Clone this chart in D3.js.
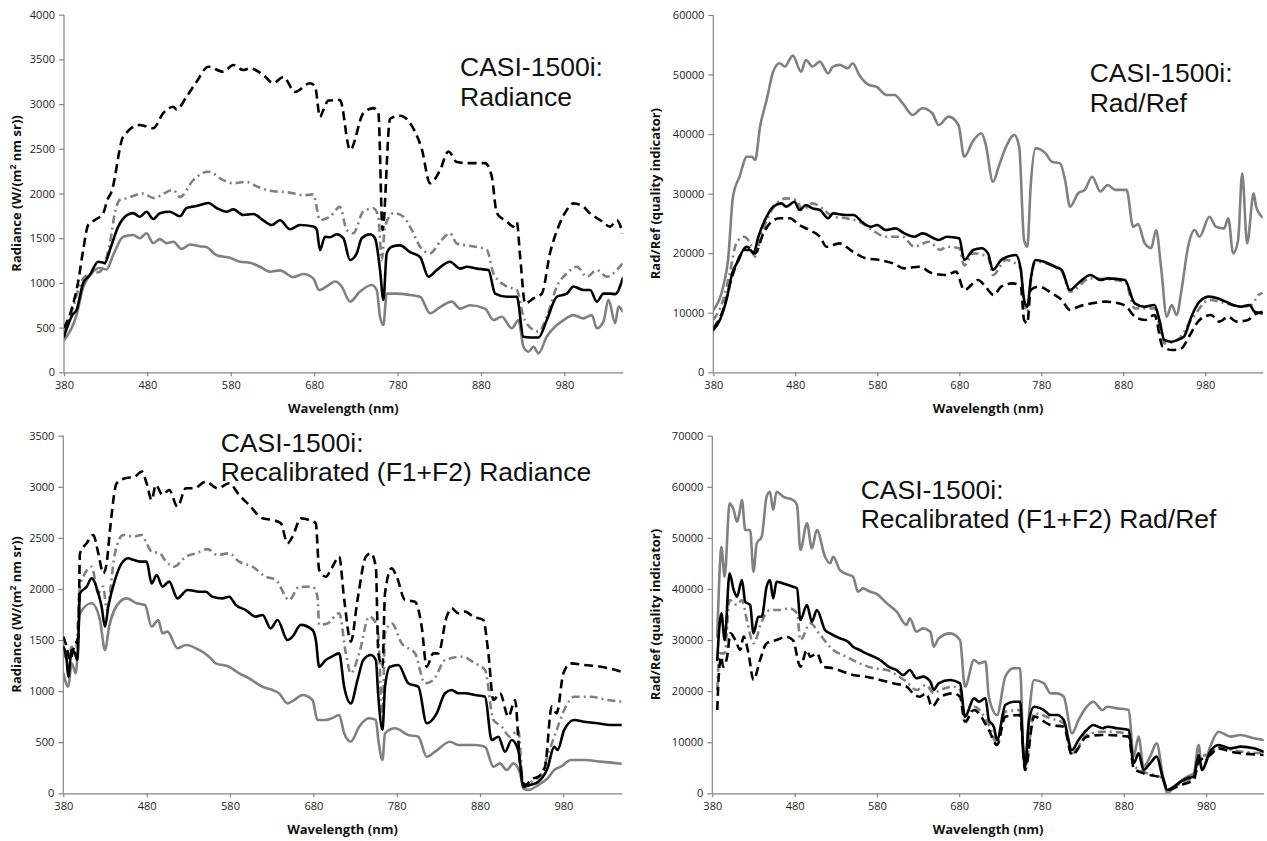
<!DOCTYPE html>
<html><head><meta charset="utf-8">
<script src="https://cdn.jsdelivr.net/npm/d3@7"></script>
<style>
html,body{margin:0;padding:0;background:#fff;}
svg{display:block;}
</style></head>
<body>
<svg id="chart" width="1267" height="841"></svg>
<script>
// ---------- DATA (wavelength nm, value) ----------
const xTicks = [380,480,580,680,780,880,980];

// Top-left: CASI-1500i Radiance
const tlBlack = [[380,398],[390,640],[395,697],[403,1000],[411,1089],[421,1237],[429,1223],[435,1368],[445,1629],[456,1760],[463,1780],[471,1740],[479,1796],[487,1714],[495,1780],[507,1796],[519,1745],[527,1838],[539,1860],[553,1893],[563,1838],[575,1796],[583,1822],[595,1760],[607,1770],[619,1700],[629,1647],[639,1700],[651,1600],[663,1647],[679,1630],[683,1600],[687,1368],[693,1517],[699,1510],[707,1545],[715,1500],[723,1256],[731,1330],[737,1500],[747,1545],[753,1500],[759,1144],[763,810],[767,1330],[773,1405],[783,1420],[795,1344],[807,1290],[817,1069],[827,1144],[843,1236],[855,1160],[863,1180],[875,1160],[889,1144],[897,880],[911,845],[923,845],[931,397],[939,390],[949,390],[959,585],[971,845],[983,880],[991,960],[1003,920],[1011,920],[1019,790],[1027,880],[1035,880],[1041,875],[1050,1050]];
const tlGray = [[380,360],[395,640],[403,950],[413,1107],[423,1167],[431,1150],[439,1312],[451,1517],[463,1535],[471,1500],[479,1555],[487,1445],[495,1490],[503,1445],[511,1460],[521,1380],[531,1430],[543,1410],[551,1400],[563,1310],[579,1280],[591,1237],[603,1225],[615,1180],[627,1125],[639,1140],[655,1065],[667,1100],[679,1050],[686,920],[695,960],[705,1015],[713,960],[723,790],[735,903],[749,977],[755,920],[759,622],[763,530],[767,880],[779,880],[795,865],[807,845],[819,660],[831,730],[845,790],[855,712],[867,750],[885,712],[895,585],[905,622],[917,492],[925,585],[931,286],[937,230],[943,286],[949,212],[959,400],[971,530],[977,570],[991,640],[1003,603],[1013,640],[1019,492],[1027,570],[1033,810],[1041,550],[1045,735],[1050,680]];
const tlDashed = [[380,495],[390,733],[397,1013],[403,1368],[409,1648],[417,1703],[427,1778],[432,1928],[437,2020],[451,2635],[471,2766],[487,2730],[499,2900],[511,2970],[515,2940],[527,3083],[539,3250],[553,3418],[571,3362],[583,3437],[595,3381],[603,3400],[619,3325],[631,3234],[643,3304],[657,3137],[675,3234],[681,3200],[687,2856],[691,2934],[697,3040],[711,3046],[723,2487],[739,2898],[751,2955],[757,2900],[762,1592],[771,2836],[783,2870],[801,2690],[809,2500],[819,2114],[831,2262],[841,2470],[851,2352],[863,2340],[885,2340],[893,2189],[899,1780],[911,1687],[919,1630],[923,1680],[927,1296],[933,770],[943,826],[953,880],[963,1340],[973,1630],[983,1816],[991,1890],[1003,1850],[1011,1775],[1023,1703],[1035,1630],[1043,1700],[1050,1554]];
const tlDashDot = [[380,450],[390,700],[400,1000],[410,1100],[423,1125],[435,1445],[441,1780],[447,1930],[456,1950],[475,2000],[487,1950],[511,2040],[519,1960],[535,2150],[553,2244],[571,2150],[583,2115],[599,2130],[611,2080],[627,2030],[651,2010],[667,1980],[679,1990],[687,1703],[699,1740],[711,1852],[719,1592],[727,1555],[739,1800],[751,1835],[757,1740],[761,1256],[765,1630],[775,1780],[787,1740],[797,1592],[807,1405],[819,1330],[831,1460],[843,1555],[851,1440],[863,1420],[887,1370],[895,1107],[911,960],[923,920],[931,622],[943,473],[949,455],[959,622],[971,960],[983,1107],[995,1180],[1007,1070],[1019,1144],[1031,1070],[1043,1144],[1050,1220]];

// Top-right: CASI-1500i Rad/Ref
const trGray = [[380,10460],[392,14370],[398,18860],[404,29490],[412,32850],[421,36200],[427,36200],[431,35640],[437,41240],[445,45730],[453,50480],[461,51900],[467,51340],[477,53180],[487,50480],[493,52450],[501,51340],[510,52170],[520,50200],[526,51340],[534,51620],[544,51060],[550,51900],[558,49920],[570,48240],[579,47960],[591,46570],[601,46570],[611,45170],[623,43210],[635,44330],[647,43500],[655,41530],[667,42930],[679,41530],[686,36200],[697,38900],[707,40150],[712,38400],[721,32000],[728,34520],[737,37880],[747,39850],[753,37880],[759,22220],[763,21090],[767,31170],[773,37600],[785,36800],[793,35370],[803,35090],[809,32290],[815,27810],[825,30070],[833,30630],[842,32850],[852,30350],[861,31460],[870,30630],[884,30630],[892,24450],[898,24880],[906,21700],[914,20850],[920,23890],[926,17730],[933,9340],[939,11300],[945,9620],[951,13820],[959,21090],[967,23890],[973,22770],[985,26130],[993,24450],[1003,24170],[1008,25860],[1014,19970],[1020,22220],[1025,33410],[1031,21650],[1039,30070],[1042,27810],[1050,26000]];
const trBlack = [[380,7100],[388,8790],[396,12140],[403,16630],[411,18860],[417,20540],[425,20540],[429,19970],[435,22770],[445,26130],[453,27810],[463,28370],[469,27810],[479,28650],[485,27250],[493,28090],[501,27530],[510,27250],[520,25860],[526,26690],[542,26410],[551,26410],[561,25290],[572,24450],[580,24730],[590,23890],[602,24170],[613,23330],[625,22770],[635,23330],[655,22220],[665,22770],[680,22500],[686,18860],[697,20540],[707,20820],[715,19970],[721,17180],[731,18860],[739,19420],[749,19690],[755,17180],[759,12140],[763,11020],[767,15500],[773,18860],[783,18580],[797,17730],[805,17180],[815,13820],[825,14940],[840,16340],[852,15500],[861,15780],[882,15500],[894,11580],[906,11020],[918,11300],[924,8790],[930,5420],[939,5140],[946,5420],[954,5980],[963,9340],[973,11860],[985,12700],[995,12420],[1005,11860],[1014,11300],[1024,11020],[1034,11300],[1040,10180],[1050,9900]];
const trDashDot = [[380,8790],[392,12140],[400,16630],[408,21650],[417,22770],[425,21650],[431,19420],[437,22220],[447,26130],[457,28370],[469,29210],[481,28930],[489,27250],[501,28370],[513,27530],[526,26130],[542,25860],[558,25290],[574,23890],[590,22770],[611,22770],[625,21090],[643,21930],[657,20540],[664,21090],[680,20820],[686,17950],[697,19970],[715,19420],[721,16340],[737,18860],[755,17500],[759,11580],[763,10180],[767,15000],[773,18580],[805,16900],[815,13540],[840,15780],[882,15220],[894,10740],[918,10740],[930,4860],[946,5420],[963,8790],[985,12140],[1005,11580],[1024,11020],[1036,11300],[1045,13000],[1050,13300]];
const trDashed = [[380,7380],[392,10460],[403,16070],[412,19420],[421,21090],[431,19970],[441,23330],[451,25290],[461,25860],[473,25860],[485,24730],[497,23890],[510,22770],[518,21090],[534,21650],[550,20260],[566,19140],[583,18860],[599,18300],[613,17460],[631,17730],[647,16630],[664,16340],[676,16900],[686,13820],[703,15500],[712,14380],[722,12980],[731,14380],[745,14940],[755,14380],[759,8790],[763,8230],[767,13820],[777,14380],[793,13260],[805,12140],[815,10460],[825,11020],[842,11580],[858,11860],[874,11580],[884,11020],[892,9620],[906,8790],[918,9620],[928,4300],[940,3740],[951,4020],[960,5980],[973,8790],[987,9620],[997,8510],[1008,9340],[1018,8510],[1032,8790],[1039,9620],[1050,10180]];

// Bottom-left: Recalibrated (F1+F2) Radiance
const blBlack = [[380,1435],[384,1305],[386,1141],[390,1403],[394,1370],[397,1305],[400,1957],[408,2022],[414,2105],[422,1957],[426,1827],[430,1631],[434,1827],[442,2088],[450,2250],[458,2300],[464,2285],[472,2268],[480,2268],[486,2055],[492,2137],[499,2022],[507,2072],[517,1908],[529,1990],[543,1973],[551,1973],[559,1924],[571,1908],[579,1924],[587,1843],[599,1794],[611,1729],[619,1745],[629,1615],[637,1696],[649,1500],[655,1533],[665,1648],[679,1598],[683,1500],[687,1239],[695,1305],[702,1337],[711,1370],[717,1043],[725,880],[733,1109],[740,1305],[749,1354],[755,1305],[758,945],[763,620],[766,1043],[772,1239],[782,1256],[794,1077],[806,1043],[816,685],[828,783],[838,979],[846,1011],[854,979],[862,979],[874,962],[886,945],[894,522],[902,554],[910,407],[918,522],[926,417],[932,65],[940,81],[950,114],[961,245],[969,456],[973,424],[981,620],[993,718],[1005,701],[1021,685],[1037,669],[1050,669]];
const blGray = [[380,1174],[386,1043],[390,1272],[395,1174],[400,1762],[414,1860],[424,1696],[430,1403],[435,1631],[448,1875],[456,1908],[468,1860],[478,1843],[486,1631],[494,1696],[499,1566],[505,1582],[517,1419],[527,1452],[543,1403],[555,1337],[563,1272],[579,1239],[591,1174],[603,1125],[619,1043],[631,1011],[639,977],[649,880],[657,913],[667,962],[679,913],[685,718],[695,718],[702,734],[711,767],[717,587],[725,505],[735,652],[747,734],[755,718],[758,522],[763,326],[766,587],[778,636],[794,571],[806,554],[816,358],[826,407],[844,505],[854,473],[874,473],[886,456],[896,261],[904,293],[912,228],[920,293],[928,196],[932,49],[938,33],[950,81],[961,146],[969,228],[977,261],[989,326],[1005,326],[1025,310],[1050,290]];
const blDashed = [[380,1533],[384,1435],[388,1305],[393,1435],[398,1533],[400,2349],[408,2447],[416,2528],[422,2349],[428,2153],[432,2250],[436,2577],[444,3034],[454,3083],[466,3100],[474,3148],[480,3034],[486,2871],[491,3018],[499,2920],[507,2969],[517,2805],[527,2985],[537,2985],[551,3050],[565,2985],[579,3034],[591,2920],[603,2822],[619,2691],[631,2675],[641,2642],[649,2447],[655,2512],[665,2691],[675,2675],[683,2642],[687,2186],[695,2120],[702,2202],[711,2316],[717,1900],[725,1484],[733,1892],[743,2316],[749,2349],[755,2218],[758,1370],[763,1239],[766,1957],[774,2202],[780,2120],[790,1892],[802,1875],[810,1631],[816,1239],[824,1370],[830,1370],[840,1729],[846,1810],[854,1762],[862,1778],[872,1729],[884,1696],[890,1370],[896,913],[904,979],[914,750],[922,913],[928,293],[934,81],[944,146],[950,163],[958,261],[966,848],[972,783],[980,1174],[989,1272],[1005,1256],[1025,1239],[1050,1190]];
const blDashDot = [[380,1370],[386,1305],[390,1435],[395,1370],[400,2022],[406,2153],[414,2218],[422,1957],[428,2022],[432,1800],[442,2349],[452,2528],[464,2512],[474,2528],[480,2447],[486,2365],[496,2349],[502,2283],[513,2218],[527,2316],[539,2349],[553,2390],[565,2333],[579,2349],[591,2267],[607,2218],[623,2120],[635,2088],[651,1892],[663,2022],[679,2022],[685,1924],[687,1650],[697,1663],[711,1762],[719,1370],[725,1174],[735,1370],[747,1729],[757,1631],[763,750],[766,1566],[774,1663],[786,1468],[802,1370],[814,1077],[824,1109],[838,1305],[858,1337],[874,1272],[886,1207],[896,718],[906,652],[916,554],[926,620],[932,65],[942,114],[954,196],[962,391],[972,620],[981,815],[993,945],[1013,945],[1033,913],[1050,897]];

// Bottom-right: Recalibrated (F1+F2) Rad/Ref
const brGray = [[386,30650],[389,43700],[391,48270],[395,42400],[401,56760],[406,55450],[410,53160],[414,55780],[416,57410],[420,51540],[426,51540],[430,43370],[434,48930],[440,50230],[446,58060],[450,59030],[454,55450],[458,59030],[466,58060],[478,57410],[483,56430],[487,47620],[495,52850],[501,47950],[507,51540],[517,46310],[523,45020],[527,46310],[535,43700],[545,42800],[551,42400],[557,39460],[563,40110],[572,39460],[580,39000],[592,37190],[604,35550],[616,32940],[620,34240],[628,31640],[636,32290],[645,31640],[649,28690],[655,30310],[669,31310],[681,30000],[687,20870],[698,26090],[704,25440],[712,25770],[716,18910],[726,15330],[736,22820],[746,24470],[754,24470],[758,7830],[760,5870],[765,15660],[771,22180],[783,21530],[791,19570],[799,19570],[807,18910],[817,11740],[825,14350],[835,16950],[843,17930],[854,16300],[860,16950],[872,16630],[886,16300],[892,7170],[898,11090],[904,5220],[912,7170],[920,9780],[927,3910],[933,0],[941,1300],[949,2270],[957,3260],[965,3910],[971,9450],[975,4570],[985,9130],[995,12060],[1010,11090],[1022,11420],[1038,10760],[1050,10440]];
const brBlack = [[386,26090],[389,33280],[391,35230],[395,30000],[401,43060],[406,39790],[410,38480],[416,41750],[420,37500],[426,36860],[430,31310],[436,34560],[440,34560],[446,40440],[450,41750],[454,38160],[458,41420],[466,41090],[478,40440],[483,40110],[487,33920],[495,36860],[501,33600],[507,35880],[517,31960],[523,31310],[535,30340],[545,29680],[551,28690],[559,28050],[567,27400],[576,26740],[584,26090],[594,24780],[604,24130],[612,23150],[620,24130],[628,22510],[636,22830],[645,21840],[649,20220],[655,21530],[669,22180],[681,21530],[687,14990],[698,18590],[704,17930],[712,18590],[716,14350],[722,13040],[726,10430],[736,17280],[746,17930],[754,17930],[758,7830],[760,5220],[765,14350],[771,16950],[783,16300],[791,15330],[799,15330],[807,14350],[817,8480],[825,10430],[835,12390],[843,13370],[854,12720],[860,13040],[872,12720],[886,12390],[892,5870],[898,7830],[904,4570],[912,5870],[920,7170],[927,3260],[933,650],[941,1300],[949,2290],[957,2940],[965,3260],[971,7500],[975,4570],[985,8150],[995,9450],[1010,8800],[1022,9130],[1038,8800],[1050,8150]];
const brDashDot = [[386,20220],[389,27400],[395,27400],[401,37830],[410,36860],[416,37830],[422,33920],[430,29360],[440,33600],[450,35880],[462,35880],[474,36210],[483,35230],[487,30000],[499,33280],[511,31000],[527,28050],[543,26740],[559,25440],[576,24470],[592,24130],[604,23150],[616,21840],[628,20220],[640,21190],[649,19570],[657,20220],[673,20870],[681,20220],[687,13700],[698,16950],[716,13370],[726,9780],[736,15990],[754,16300],[760,4890],[771,15660],[791,14680],[807,13700],[817,7830],[835,11420],[854,12060],[886,11740],[892,5540],[904,4240],[927,2940],[933,650],[949,1960],[965,3260],[971,6850],[985,7830],[995,9130],[1010,8480],[1050,7830]];
const brDashed = [[386,16310],[388,23480],[391,26740],[393,24780],[398,26740],[402,31310],[408,30000],[414,28050],[418,30660],[424,27400],[430,22180],[438,26090],[446,29360],[458,30000],[470,30660],[478,30000],[487,24780],[495,28050],[499,26740],[507,27400],[515,24780],[527,24470],[539,23810],[551,23150],[567,22830],[584,22180],[600,21530],[616,20870],[624,19570],[632,18910],[640,19570],[647,16950],[657,18910],[673,19570],[681,18910],[687,14020],[698,16300],[716,12390],[726,9450],[736,15000],[754,15330],[760,4570],[771,15000],[791,13370],[807,13040],[817,7500],[835,11090],[854,11420],[886,11090],[892,4890],[904,3910],[927,2940],[933,650],[949,1630],[965,2610],[971,6200],[985,7500],[995,8800],[1010,8150],[1050,7500]];

const yTitleRad = ["Radiance  (W/(m", "2", " nm sr))"];
const yTitleRR = "Rad/Ref (quality indicator)";
const xTitle = "Wavelength (nm)";

// ---------- LAYOUT ----------
const styles = {
  gray:    {stroke:"#808080", dash:null},
  dashdot: {stroke:"#808080", dash:"8,4,2,4"},
  black:   {stroke:"#000000", dash:null},
  dashed:  {stroke:"#000000", dash:"9,5"}
};

const panels = [
  {x0:64, x1:622.7, yT:14.7, yB:372.3, ymax:4000, ystep:500, ytitle:"rad", ytx:16,
   series:[["gray",tlGray],["dashdot",tlDashDot],["black",tlBlack],["dashed",tlDashed]],
   note:["CASI-1500i:","Radiance"], nx:460, ny:76},
  {x0:713.3, x1:1262.7, yT:15, yB:372.3, ymax:60000, ystep:10000, ytitle:"rr", ytx:655,
   series:[["gray",trGray],["dashdot",trDashDot],["black",trBlack],["dashed",trDashed]],
   note:["CASI-1500i:","Rad/Ref"], nx:1089.7, ny:82},
  {x0:63.3, x1:621.7, yT:435.7, yB:793.3, ymax:3500, ystep:500, ytitle:"rad", ytx:16,
   series:[["gray",blGray],["dashdot",blDashDot],["black",blBlack],["dashed",blDashed]],
   note:["CASI-1500i:","Recalibrated (F1+F2) Radiance"], nx:220.7, ny:451.7},
  {x0:712.3, x1:1263.7, yT:435.7, yB:793.3, ymax:70000, ystep:10000, ytitle:"rr", ytx:655,
   series:[["gray",brGray],["dashdot",brDashDot],["black",brBlack],["dashed",brDashed]],
   note:["CASI-1500i:","Recalibrated (F1+F2) Rad/Ref"], nx:860.7, ny:498.7}
];

const svg = d3.select("#chart");
const tickFont = "'Open Sans', 'Liberation Sans', sans-serif";
const axisColor = "#868686";

panels.forEach((p, i) => {
  const x = d3.scaleLinear().domain([380,1050]).range([p.x0, p.x1]);
  const y = d3.scaleLinear().domain([0,p.ymax]).range([p.yB, p.yT]);
  const g = svg.append("g");

  svg.append("clipPath").attr("id","clip"+i).append("rect")
    .attr("x",p.x0).attr("y",p.yT-2).attr("width",p.x1-p.x0).attr("height",p.yB-p.yT+2);

  const yAx = g.append("g").attr("transform",`translate(${p.x0},0)`)
    .call(d3.axisLeft(y).tickValues(d3.range(0,p.ymax+1,p.ystep)).tickSize(5).tickPadding(4).tickFormat(d3.format("d")));
  const xAx = g.append("g").attr("transform",`translate(0,${p.yB})`)
    .call(d3.axisBottom(x).tickValues(xTicks).tickSize(4).tickPadding(5).tickSizeOuter(0).tickFormat(d3.format("d")));
  [yAx,xAx].forEach(a=>{
    a.select(".domain").attr("stroke",axisColor).attr("stroke-width",1.2);
    a.selectAll(".tick line").attr("stroke",axisColor).attr("stroke-width",1.2);
    a.selectAll(".tick text").attr("fill","#222").style("font-family",tickFont).style("font-size","11px");
  });
  yAx.select(".domain").attr("d",`M0,${p.yB}V${p.yT}`);

  g.append("text").attr("x",(p.x0+p.x1)/2).attr("y",p.yB+41)
    .attr("text-anchor","middle").style("font-family",tickFont).style("font-weight","bold")
    .style("font-size","13px").attr("fill","#111").text(xTitle);

  const cy = (p.yT+p.yB)/2;
  const yt = g.append("text").attr("transform",`translate(${p.ytx},${cy}) rotate(-90)`)
    .attr("text-anchor","middle").attr("dy","0.35em").style("font-family",tickFont).style("font-weight","bold")
    .style("font-size","13px").attr("fill","#111");
  if (p.ytitle==="rad") {
    yt.append("tspan").text(yTitleRad[0]);
    yt.append("tspan").attr("dy","-5").style("font-size","8.5px").text(yTitleRad[1]);
    yt.append("tspan").attr("dy","5").text(yTitleRad[2]);
  } else {
    yt.text(yTitleRR);
  }

  const line = d3.line().x(d=>x(d[0])).y(d=>y(d[1])).curve(d3.curveMonotoneX);
  const lg = g.append("g").attr("clip-path",`url(#clip${i})`);
  p.series.forEach(([k,data])=>{
    const s = styles[k];
    lg.append("path").datum(data).attr("d",line)
      .attr("fill","none").attr("stroke",s.stroke).attr("stroke-width",2.6)
      .attr("stroke-linejoin","round").attr("stroke-linecap", s.dash ? "butt" : "round")
      .attr("stroke-dasharray",s.dash);
  });

  const nt = g.append("text").style("font-family","'Liberation Sans', Arial, sans-serif")
    .style("font-size","26.5px").attr("fill","#111");
  p.note.forEach((t,j)=>{
    nt.append("tspan").attr("x",p.nx).attr("y",p.ny + j*29.7).text(t);
  });
});
</script>
</body></html>
